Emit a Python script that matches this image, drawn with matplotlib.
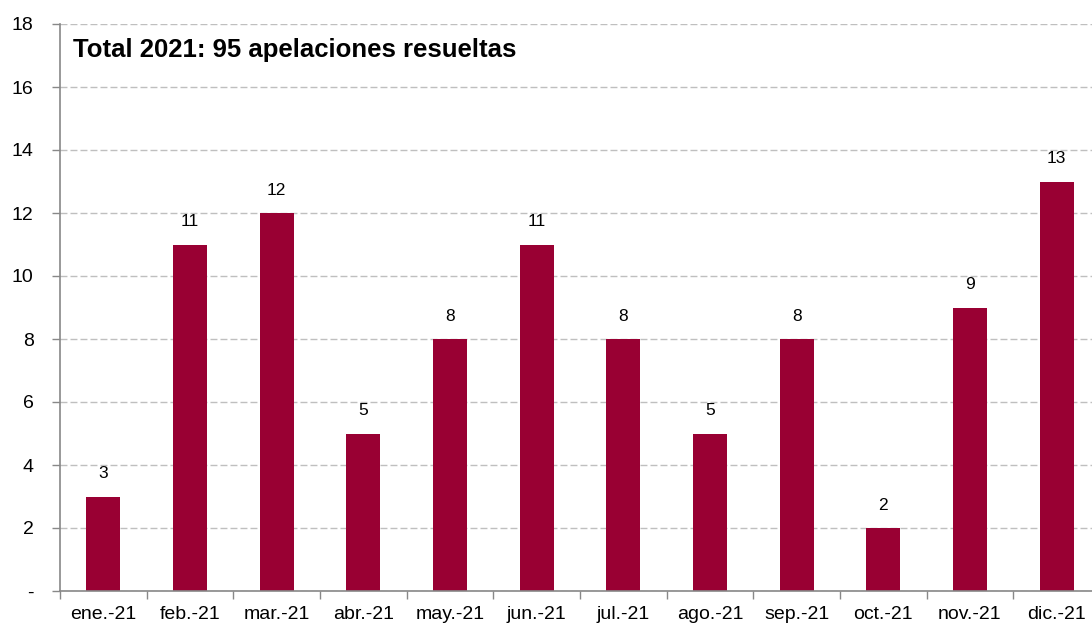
import numpy as np
import matplotlib.pyplot as plt
from matplotlib.ticker import FixedLocator, NullFormatter

plt.rcParams['font.family'] = ['Liberation Sans', 'DejaVu Sans']

# data
meses = ['ene.-21', 'feb.-21', 'mar.-21', 'abr.-21', 'may.-21', 'jun.-21',
         'jul.-21', 'ago.-21', 'sep.-21', 'oct.-21', 'nov.-21', 'dic.-21']
apelaciones = [3, 11, 12, 5, 8, 11, 8, 5, 8, 2, 9, 13]
yticks = [0, 2, 4, 6, 8, 10, 12, 14, 16, 18]
ylabels = ['-', '2', '4', '6', '8', '10', '12', '14', '16', '18']
titulo = 'Total 2021: 95 apelaciones resueltas'

fig = plt.figure(figsize=(10.92, 6.26), dpi=100)
ax = fig.add_axes([60/1092, 1 - 591/626, 1040/1092, (591 - 24)/626])

x = np.arange(len(meses))
ax.bar(x, apelaciones, width=0.39, color='#990033', zorder=3)
for xi, v in zip(x, apelaciones):
    ax.annotate(str(v), (xi, v), xytext=(0, 16.5), textcoords='offset points',
                ha='center', va='center', fontsize=12.5)

ax.set_xlim(-0.5, len(meses) - 0.5)
ax.set_ylim(0, 18)
ax.set_yticks(yticks)
ax.set_yticklabels(ylabels, fontsize=14)
ax.grid(axis='y', color='#bfbfbf', linestyle=(0, (5, 2.2)), linewidth=1, zorder=0)

# category labels centred, tick marks at the boundaries
ax.xaxis.set_major_locator(FixedLocator(np.arange(len(meses) + 1) - 0.5))
ax.xaxis.set_major_formatter(NullFormatter())
ax.xaxis.set_minor_locator(FixedLocator(x))
ax.set_xticklabels(meses, minor=True, fontsize=14)
ax.tick_params(axis='x', which='major', length=6, color='#888888', width=1)
ax.tick_params(axis='x', which='minor', length=0, pad=11)
ax.tick_params(axis='y', length=6, color='#888888', width=1, pad=13)

for s in ['top', 'right']:
    ax.spines[s].set_visible(False)
for s in ['left', 'bottom']:
    ax.spines[s].set_color('#888888')
    ax.spines[s].set_linewidth(1.2)
    ax.spines[s].set_zorder(4)

ax.text(13/1040, 0.955, titulo, transform=ax.transAxes, fontsize=18.5,
        fontweight='bold', va='center', ha='left')

fig.savefig('out.png', dpi=100)
